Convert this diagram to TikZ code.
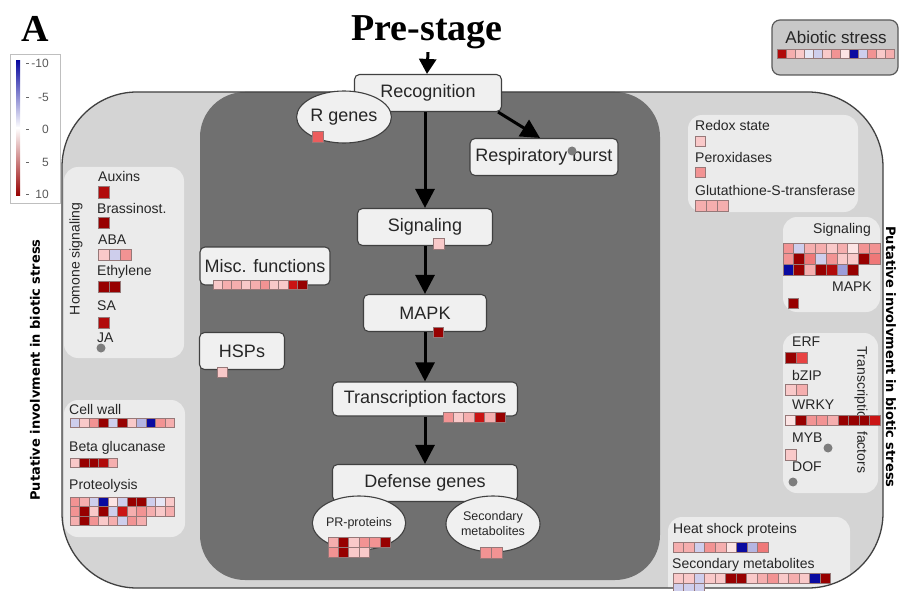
\documentclass[tikz,border=0pt]{standalone}
\usepackage{fontspec}
\setmainfont{Liberation Sans}
\newfontfamily\serifbold{Liberation Serif}
\newfontfamily\sidefont{DejaVu Sans}
\usepackage{tikz}
\usetikzlibrary{positioning,arrows.meta,shapes.geometric}
\usepackage{xcolor}
\definecolor{OuterFill}{RGB}{212,212,212}
\definecolor{InnerFill}{RGB}{112,112,112}
\definecolor{PanelFill}{RGB}{235,235,235}
\definecolor{BoxFill}{RGB}{240,240,240}
\definecolor{AbioFill}{RGB}{200,200,200}
\definecolor{CellLine}{RGB}{150,120,120}
\definecolor{DotGray}{RGB}{125,125,125}
\definecolor{hmblue}{RGB}{10,10,160}
\definecolor{hmbright}{RGB}{228,30,30}
\definecolor{hmdark}{RGB}{150,0,0}

% one row of coloured cells: [pitch]{x}{y}{values -10..10}
\newcommand{\heatrow}[4][9.5]{%
  \foreach \v [count=\i from 0] in {#4} {
    \ifnum\v<0
      \pgfmathtruncatemacro\pc{abs(\v)*10}
      \def\hc{hmblue!\pc!white}
    \else\ifnum\v>7
      \pgfmathtruncatemacro\pc{(\v-7)*33}
      \def\hc{hmdark!\pc!hmbright}
    \else
      \pgfmathtruncatemacro\pc{\v*12}
      \def\hc{hmbright!\pc!white}
    \fi\fi
    \draw[cell, fill=\hc] ({#2+\i*#1},#3) rectangle ++(#1,#1);
  }}

\begin{document}
\begin{tikzpicture}[x=1pt, y=-1pt,
    mainbox/.style={rectangle, rounded corners=5pt, draw=black!75, fill=BoxFill,
        line width=1.1pt, font=\fontsize{18}{18}\selectfont, text=black!85},
    oval/.style={ellipse, draw=black!75, fill=BoxFill, line width=1.1pt, inner sep=0pt,
        text=black!85},
    panel/.style={fill=PanelFill, rounded corners=14pt},
    lbl/.style={anchor=west, inner sep=0pt, font=\fontsize{14}{14}\selectfont, text=black!85},
    cell/.style={draw=CellLine, line width=1pt},
    dot/.style={circle, fill=DotGray, inner sep=0pt, minimum size=9pt},
    arr/.style={-{Triangle[length=19pt,width=19pt]}, line width=3pt},
    side/.style={font=\sidefont\bfseries\fontsize{13}{13}\selectfont},
]
\useasboundingbox (0,0) rectangle (900,591);

% background areas
\fill[OuterFill, rounded corners=75pt] (62,92) rectangle (883,588);
\fill[InnerFill, rounded corners=45pt] (200,92) rectangle (660,580);
\begin{scope}
\clip[rounded corners=75pt] (62,92) rectangle (883,588);
\fill[panel] (64,167) rectangle (184,358);
\fill[panel] (64,400) rectangle (185,537);
\fill[panel] (688,115) rectangle (858,212);
\fill[panel] (783,217) rectangle (880,312);
\fill[panel] (783,333) rectangle (878,493);
\fill[panel] (668,517) rectangle (850,600);
\end{scope}
\draw[black!75, line width=1.3pt, rounded corners=75pt] (62,92) rectangle (883,588);

% titles
\node[font=\serifbold\bfseries\fontsize{38}{38}\selectfont] (panelA) at (35,29) {A};
\node[font=\serifbold\bfseries\fontsize{38}{38}\selectfont] (prestage) at (427,32) {Pre-stage};

% legend
\draw[black!25, line width=1pt] (10,55) rectangle (60,203);
\shade[top color=hmblue, bottom color=white] (16,61) rectangle (20,128);
\shade[top color=white, bottom color=hmdark] (16,128) rectangle (20,196);
\foreach \t/\yy [count=\k] in {-10/63,-5/97,0/129,5/162,10/194} {
  \draw[black!60, line width=0.8pt] (26,\yy) -- (29,\yy);
  \node[anchor=east, inner sep=0pt, font=\fontsize{12}{12}\selectfont, text=black!65]
    (tick\k) at (49,\yy) {\t};
}

% abiotic stress
\draw[fill=AbioFill, draw=black!65, line width=1.2pt, rounded corners=8pt] (772,20) rectangle (898,75);
\node[font=\fontsize{17}{17}\selectfont, text=black!85] (abio) at (836,37) {Abiotic stress};
\heatrow[9]{777}{50}{9,3,2,-1,-2,2,4,1,-10,-2,4,2,3}

% side labels
\node[side, rotate=90] (leftside) at (35,370) {Putative involvment in biotic stress};
\node[side, rotate=-90] (rightside) at (891,357) {Putative involvment in biotic stress};

% hormone signaling
\node[lbl, rotate=90, anchor=center] (hormone) at (76,259) {Homone signaling};
\node[lbl] (auxins) at (98,176) {Auxins};
\heatrow[11]{98}{187}{9}
\node[lbl] (brass) at (97,208) {Brassinost.};
\heatrow[11]{98}{217}{10}
\node[lbl] (aba) at (98,240) {ABA};
\heatrow[11]{98}{249}{2,-2,4}
\node[lbl] (ethylene) at (97,272) {Ethylene};
\heatrow[11]{98}{281}{10,10}
\node[lbl] (sa) at (97,306) {SA};
\heatrow[11]{98}{317}{9}
\node[lbl] (ja) at (97,338) {JA};
\node[dot] (jadot) at (101,348) {};

% cell wall etc.
\node[lbl] (cellwall) at (69,409) {Cell wall};
\heatrow{70}{418}{-2,2,4,10,-2,10,2,-3,-10,4,3}
\node[lbl] (betaglu) at (69,448) {Beta glucanase};
\heatrow{70}{458}{2,10,10,9,3}
\node[lbl] (proteo) at (69,486) {Proteolysis};
\heatrow{70}{497}{4,3,-2,-10,1,-2,10,10,-2,-1,2}
\heatrow{70}{506.5}{4,10,2,10,-2,8,3,4,3,2,3}
\heatrow{70}{516}{3,10,4,2,3,-2,4,3}

% redox
\node[lbl] (redox) at (695,125) {Redox state};
\heatrow[10]{695}{137}{2}
\node[lbl] (perox) at (695,157) {Peroxidases};
\heatrow[10]{695}{168}{4}
\node[lbl] (gst) at (695,190) {Glutathione-S-transferase};
\heatrow[11]{695}{200}{3,3,3}

% right signaling
\node[lbl, anchor=east] (rsignal) at (871,230) {Signaling};
\heatrow[10.8]{783}{243}{4,-2,3,3,2,3,1,4,4}
\heatrow[10.8]{783}{253.8}{4,10,5,-2,4,2,2,10,5}
\heatrow[10.8]{783}{264.6}{-10,10,3,10,9,-4,10}
\node[lbl, anchor=east] (rmapk) at (872,287) {MAPK};
\heatrow[10.5]{788}{298}{10}

% right transcription factors
\node[lbl, rotate=-90, anchor=center] (rtf) at (861,410) {Transcription factors};
\node[lbl] (erf) at (792,342) {ERF};
\heatrow[11]{785}{352}{10,7}
\node[lbl] (bzip) at (792,375) {bZIP};
\heatrow[11]{785}{384}{2,3}
\node[lbl] (wrky) at (792,405) {WRKY};
\heatrow[10.6]{785}{415}{1,10,4,4,3,10,10,10,8}
\node[lbl] (myb) at (792,438) {MYB};
\heatrow[11]{785}{449}{2}
\node[dot] (mybdot) at (828,448) {};
\node[lbl] (dof) at (792,467) {DOF};
\node[dot] (dofdot) at (793,482) {};

% heat shock / secondary metabolites
\node[lbl] (hsp) at (673,530) {Heat shock proteins};
\heatrow[10.6]{673}{542}{3,3,-2,4,3,1,-10,-3,5}
\node[lbl] (secmetr) at (672,565) {Secondary metabolites};
\heatrow[10.5]{673}{573}{2,2,-2,2,2,10,10,2,3,4,2,3,2,-10,10}
\heatrow[10.5]{673}{583.5}{-2,-2,-2}

% central pathway
\node[mainbox, minimum width=147pt, minimum height=37pt] (recog) at (428,93) {Recognition};
\node[oval, minimum width=85pt, minimum height=52pt, font=\fontsize{18}{18}\selectfont] (rgenes) at (344,117) {R genes};
\node[mainbox, minimum width=148pt, minimum height=37pt] (respburst) at (544,157) {Respiratory burst};
\node[mainbox, minimum width=135pt, minimum height=37pt] (signal) at (425,227) {Signaling};
\node[mainbox, minimum width=123pt, minimum height=37pt] (mapk) at (425,313) {MAPK};
\node[mainbox, minimum width=130pt, minimum height=38pt] (misc) at (265,266) {Misc. functions};
\node[mainbox, minimum width=85pt, minimum height=37pt] (hsps) at (242,351) {HSPs};
\node[mainbox, minimum width=185pt, minimum height=34pt] (tfac) at (425,399) {Transcription factors};
\node[mainbox, minimum width=185pt, minimum height=37pt] (defense) at (425,483) {Defense genes};
\node[oval, minimum width=88pt, minimum height=54pt, font=\fontsize{12.5}{12.5}\selectfont] (prprot) at (359,523) {PR-proteins};
\node[oval, minimum width=94pt, minimum height=56pt, align=center,
      font=\fontsize{12.5}{15}\selectfont] (secmet) at (493,524) {Secondary\\metabolites};

\draw[-{Triangle[length=15pt,width=17pt]}, line width=3pt] (prestage.south -| recog.north) -- (recog.north -| prestage.south);
\draw[arr] (recog.south -| signal.north) -- (signal.north);
\draw[arr] ([xshift=-4pt]recog.south east) -- ([xshift=-4pt]respburst.north);
\draw[arr] (signal) -- (mapk);
\draw[arr] (mapk) -- (tfac);
\draw[arr] (tfac) -- (defense);

\node[dot] (rbdot) at (572,151) {};
\heatrow[11]{312}{132}{6}
\heatrow[11]{433}{238}{2}
\heatrow[10.5]{433}{327}{10}
\heatrow[9.4]{213}{280}{2,3,3,2,3,4,2,2,8,10}
\heatrow[10.5]{217}{367}{2}
\heatrow[10.4]{443}{412}{4,2,3,8,3,10}
\heatrow[10.4]{328}{537}{3,10,2,4,4,10}
\heatrow[10.4]{328}{547.4}{4,10,2,2}
\heatrow[11]{480}{547}{4,4}
\end{tikzpicture}
\end{document}
